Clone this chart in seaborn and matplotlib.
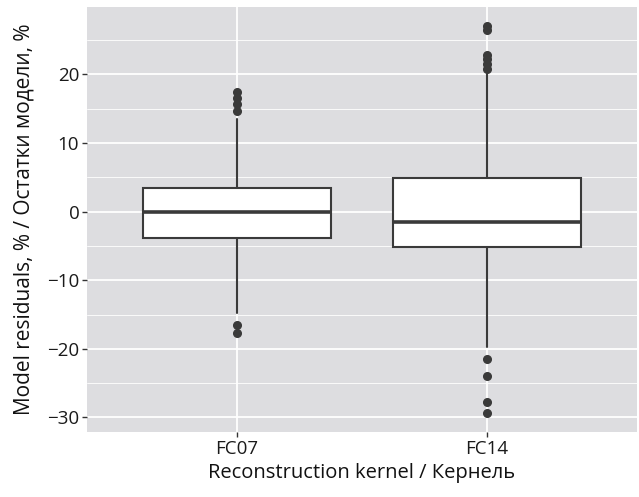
import matplotlib
matplotlib.use("Agg")
import matplotlib.pyplot as plt
import seaborn as sns
from matplotlib.ticker import MultipleLocator

# ---- data ----
kernels = ["FC07", "FC14"]
q1 = [-3.8, -5.1]
median = [-0.1, -1.5]
q3 = [3.4, 4.9]
whisker_low = [-14.8, -19.7]
whisker_high = [13.5, 20.0]
outliers_fc07 = [14.6, 15.6, 16.6, 17.4, -16.5, -17.7]
outliers_fc14 = [20.8, 21.5, 22.2, 22.8, 26.5, 27.0, -21.5, -23.9, -27.8, -29.3]
y_ticks = [-30, -20, -10, 0, 10, 20]

sns.set_theme(style="darkgrid")
plt.rcParams["font.family"] = ["Open Sans", "DejaVu Sans"]

fig = plt.figure(figsize=(6.39, 4.97), dpi=100)
ax = fig.add_axes([0.136, 0.131, 0.861, 0.855])
ax.set_facecolor("#dddde0")

stats = []
outs = [outliers_fc07, outliers_fc14]
for i, k in enumerate(kernels):
    stats.append(dict(label=k, q1=q1[i], med=median[i], q3=q3[i],
                      whislo=whisker_low[i], whishi=whisker_high[i],
                      fliers=outs[i]))

line_c = "#3a3a3a"
ax.bxp(stats, positions=range(len(kernels)), widths=0.75, patch_artist=True,
       showcaps=False,
       boxprops=dict(facecolor="white", edgecolor=line_c, linewidth=1.5),
       medianprops=dict(color=line_c, linewidth=2.6),
       whiskerprops=dict(color=line_c, linewidth=1.5),
       flierprops=dict(marker="o", markerfacecolor=line_c, markeredgecolor=line_c,
                       markersize=5.5),
       zorder=3)

ax.set_xlim(-0.6, 1.6)
ax.set_ylim(-32.1, 29.8)
ax.set_yticks(y_ticks)
ax.yaxis.set_minor_locator(MultipleLocator(5))
ax.set_xticks(range(len(kernels)))
ax.set_xticklabels(kernels)

ax.grid(which="major", color="white", linewidth=1.3)
ax.grid(which="minor", axis="y", color="white", linewidth=0.6)
ax.set_axisbelow(True)
for s in ax.spines.values():
    s.set_visible(False)

ax.tick_params(axis="both", which="major", length=3.5, width=1.0, color="#333333",
               labelsize=13.5, labelcolor="#1a1a1a", pad=2, direction="out")
ax.tick_params(which="minor", length=0)
ax.tick_params(axis="both", which="major", bottom=True, left=True)

ax.set_xlabel("Reconstruction kernel / Кернель", fontsize=14.5, color="#111111", labelpad=4)
ax.set_ylabel("Model residuals, % / Остатки модели, %", fontsize=15, color="#111111", labelpad=9)

fig.savefig("out.png", dpi=100)
